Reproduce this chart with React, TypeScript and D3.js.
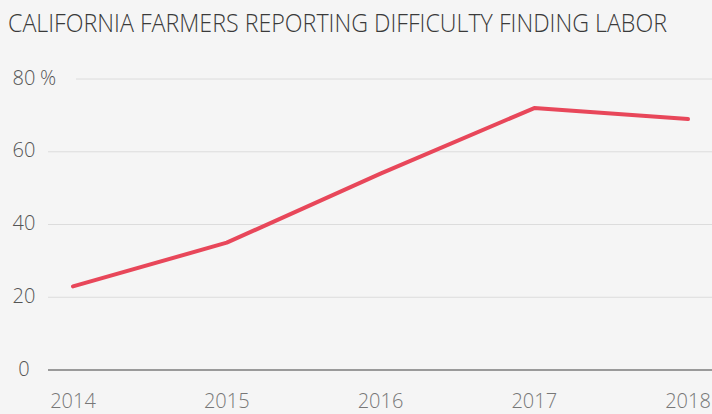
import React, { useLayoutEffect, useRef, useState } from "react";
import * as d3 from "d3";

const title = "CALIFORNIA FARMERS REPORTING DIFFICULTY FINDING LABOR";
const years = ["2014", "2015", "2016", "2017", "2018"];
const values = [23, 35, 54, 72, 69];
const yTicks = [0, 20, 40, 60, 80];

const W = 712;
const H = 414;
const FONT = "'Open Sans', 'Liberation Sans', sans-serif";
const TITLE_W = 659;

export default function App() {
  const titleRef = useRef<SVGTextElement>(null);
  const [sx, setSx] = useState(0.88);

  useLayoutEffect(() => {
    const el = titleRef.current;
    if (el) {
      const w = el.getComputedTextLength();
      if (w > 0) setSx(TITLE_W / w);
    }
  }, []);

  const x = d3.scalePoint<string>().domain(years).range([73, 688]);
  const y = d3.scaleLinear().domain([0, 80]).range([370, 79]);
  const line = d3
    .line<number>()
    .x((_, i) => x(years[i]) as number)
    .y((d) => y(d));

  return (
    <div style={{ position: "fixed", left: 0, top: 0, width: W, height: H }}>
      <svg width={W} height={H} style={{ display: "block" }}>
        <rect x={0} y={0} width={W} height={H} fill="#f5f5f5" />
        <g transform={`translate(8,32) scale(${sx},1)`}>
          <text
            ref={titleRef}
            x={0}
            y={0}
            fontFamily={FONT}
            fontWeight={300}
            fontSize={25.5}
            fill="#3a3a3a"
          >
            {title}
          </text>
        </g>
        {yTicks.map((t) => (
          <g key={t}>
            <line
              x1={t === 80 ? 76 : 48}
              x2={W}
              y1={y(t)}
              y2={y(t)}
              stroke={t === 0 ? "#9a9a9a" : "#dcdcdc"}
              strokeWidth={t === 0 ? 2 : 1}
            />
            <text
              x={24}
              y={y(t) + 5.5}
              textAnchor="middle"
              fontFamily={FONT}
              fontWeight={300}
              fontSize={20}
              fill="#555"
            >
              {t}
            </text>
            {t === 80 && (
              <text
                x={40}
                y={y(t) + 5.5}
                fontFamily={FONT}
                fontWeight={300}
                fontSize={20}
                fill="#555"
              >
                %
              </text>
            )}
          </g>
        ))}
        {years.map((yr) => (
          <text
            key={yr}
            x={x(yr) as number}
            y={408}
            textAnchor="middle"
            fontFamily={FONT}
            fontWeight={300}
            fontSize={20}
            fill="#777"
          >
            {yr}
          </text>
        ))}
        <path
          d={line(values) || ""}
          fill="none"
          stroke="#e8475a"
          strokeWidth={4}
          strokeLinejoin="round"
          strokeLinecap="round"
        />
      </svg>
    </div>
  );
}
